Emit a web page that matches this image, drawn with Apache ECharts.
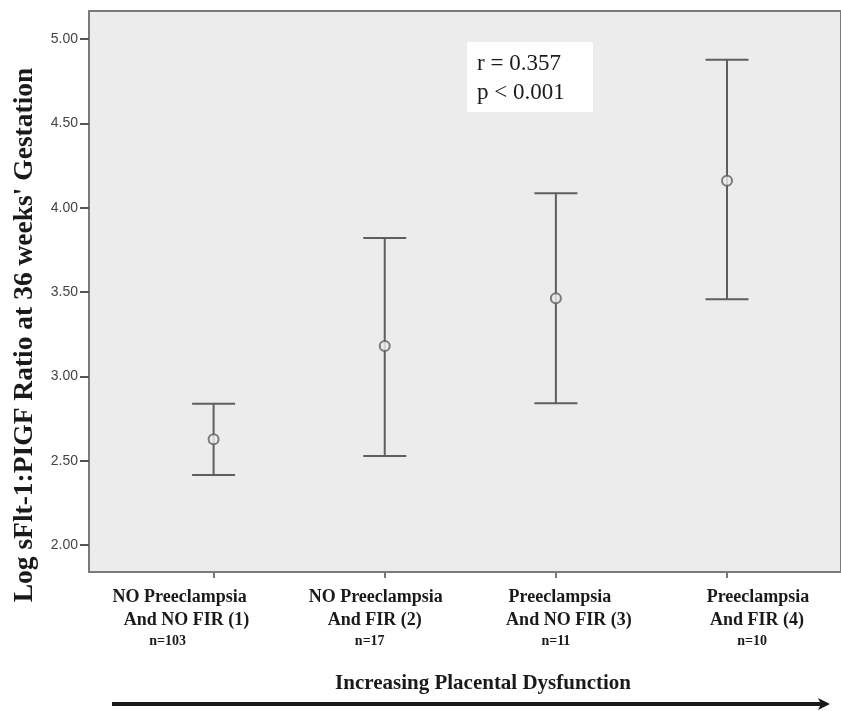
<!DOCTYPE html>
<html><head><meta charset="utf-8">
<script src="https://cdn.jsdelivr.net/npm/echarts@6/dist/echarts.min.js"></script>
<style>html,body{margin:0;padding:0;background:#fff}#c{width:841px;height:711px}</style>
</head><body><div id="c"></div>
<script>
// ---- data ----
const groups = [1, 2, 3, 4];
const groupLine1 = ['NO Preeclampsia', 'NO Preeclampsia', 'Preeclampsia', 'Preeclampsia'];
const groupLine2 = ['And NO FIR (1)', 'And FIR (2)', 'And NO FIR (3)', 'And FIR (4)'];
const groupN = ['n=103', 'n=17', 'n=11', 'n=10'];
const means = [2.627, 3.180, 3.463, 4.160];
const lower = [2.415, 2.528, 2.840, 3.457];
const upper = [2.838, 3.820, 4.085, 4.877];
const yTicks = [2.0, 2.5, 3.0, 3.5, 4.0, 4.5, 5.0];
const statsText = ['r = 0.357', 'p < 0.001'];
const yTitle = "Log sFlt-1:PIGF Ratio at 36 weeks' Gestation";
const xTitle = 'Increasing Placental Dysfunction';

// ---- layout (not data) ----
const off1 = [-34, -9, 4, 31];
const off2 = [-27, -10, 13, 30];
const offN = [-46, -15, 0, 25];

const chart = echarts.init(document.getElementById('c'), null, {renderer: 'canvas'});
const barColor = '#5e5e5e';
const serif = '"Liberation Serif","Times New Roman",serif';

const option = {
  animation: false,
  backgroundColor: '#fff',
  grid: {left: 89, top: 11, right: -3, bottom: 139, show: true,
         backgroundColor: '#ececec', borderColor: '#7a7a7a', borderWidth: 2},
  xAxis: {type: 'value', min: 0.272, max: 4.666,
    axisLine: {show: true, onZero: false, lineStyle: {color: '#7a7a7a', width: 2}},
    axisTick: {show: true, customValues: groups, length: 6, lineStyle: {color: '#7a7a7a', width: 2}},
    axisLabel: {show: false}, splitLine: {show: false}},
  yAxis: {type: 'value', min: 1.84, max: 5.166,
    axisLine: {show: true, lineStyle: {color: '#7a7a7a', width: 2}},
    axisTick: {show: true, customValues: yTicks, length: 9, lineStyle: {color: '#555', width: 2}},
    axisLabel: {customValues: yTicks, formatter: v => v.toFixed(2), color: '#444',
      fontFamily: 'Liberation Sans, Arial, sans-serif', fontSize: 14, margin: 11},
    splitLine: {show: false}},
  series: [
    {type: 'custom', data: groups.map((g, i) => [g, lower[i], upper[i]]),
     renderItem: function (params, api) {
       const x = api.value(0);
       const lo = api.coord([x, api.value(1)]);
       const hi = api.coord([x, api.value(2)]);
       const hw = 21.5;
       const st = {stroke: barColor, lineWidth: 2, fill: null};
       return {type: 'group', children: [
         {type: 'line', shape: {x1: lo[0], y1: lo[1], x2: hi[0], y2: hi[1]}, style: st},
         {type: 'line', shape: {x1: lo[0] - hw, y1: lo[1], x2: lo[0] + hw, y2: lo[1]}, style: st},
         {type: 'line', shape: {x1: hi[0] - hw, y1: hi[1], x2: hi[0] + hw, y2: hi[1]}, style: st}
       ]};
     }, z: 2},
    {type: 'scatter', data: groups.map((g, i) => [g, means[i]]), symbol: 'circle', symbolSize: 10,
     itemStyle: {color: '#ececec', borderColor: barColor, borderWidth: 2}, z: 3}
  ]
};
chart.setOption(option);

function buildGraphics() {
  const els = [];
  groups.forEach((g, i) => {
    const px = chart.convertToPixel({gridIndex: 0}, [g, 2])[0];
    els.push({type: 'text', x: px + off1[i], y: 597, style: {text: groupLine1[i], font: 'bold 18px ' + serif, fill: '#1a1a1a', align: 'center', verticalAlign: 'middle'}});
    els.push({type: 'text', x: px + off2[i], y: 620, style: {text: groupLine2[i], font: 'bold 18px ' + serif, fill: '#1a1a1a', align: 'center', verticalAlign: 'middle'}});
    els.push({type: 'text', x: px + offN[i], y: 641, style: {text: groupN[i], font: 'bold 14px ' + serif, fill: '#1a1a1a', align: 'center', verticalAlign: 'middle'}});
  });
  els.push({type: 'text', x: 483, y: 684, style: {text: xTitle, font: 'bold 21px ' + serif, fill: '#1a1a1a', align: 'center', verticalAlign: 'middle'}});
  els.push({type: 'line', shape: {x1: 112, y1: 704, x2: 822, y2: 704}, style: {stroke: '#1a1a1a', lineWidth: 4}});
  els.push({type: 'polygon', shape: {points: [[818, 698], [830, 704], [818, 710], [821, 704]]}, style: {fill: '#1a1a1a'}});
  els.push({type: 'text', x: 25, y: 335, rotation: Math.PI / 2, style: {text: yTitle, font: 'bold 27.5px ' + serif, fill: '#1a1a1a', align: 'center', verticalAlign: 'middle'}});
  els.push({type: 'rect', shape: {x: 467, y: 42, width: 126, height: 70}, style: {fill: '#fff'}, z: 10});
  els.push({type: 'text', x: 477, y: 64, style: {text: statsText[0], font: '23px ' + serif, fill: '#1a1a1a', align: 'left', verticalAlign: 'middle'}, z: 11});
  els.push({type: 'text', x: 477, y: 93, style: {text: statsText[1], font: '23px ' + serif, fill: '#1a1a1a', align: 'left', verticalAlign: 'middle'}, z: 11});
  return els;
}
chart.setOption({graphic: {elements: buildGraphics()}});
</script></body></html>
